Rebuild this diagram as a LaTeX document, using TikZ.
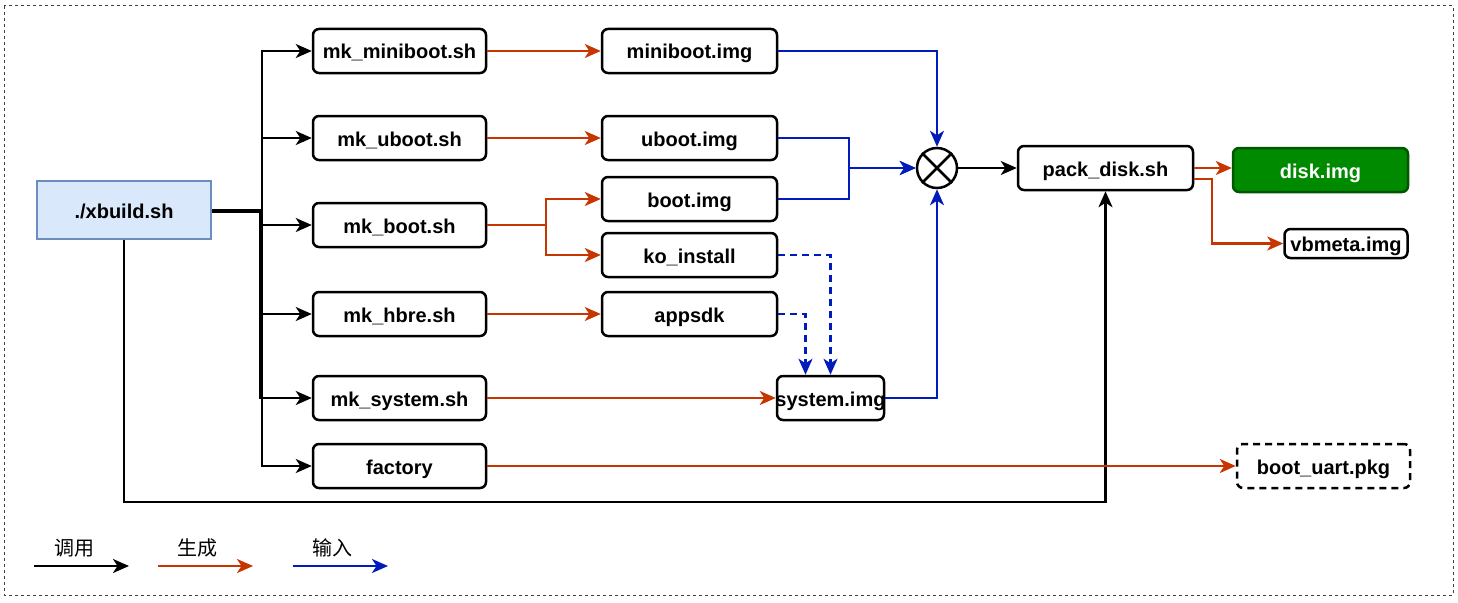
\documentclass[tikz,border=0pt]{standalone}
\usepackage{fontspec}
\setmainfont{Liberation Sans}
\newfontfamily\cjk{Noto Sans CJK SC}
\usetikzlibrary{arrows.meta,calc}
\definecolor{genc}{HTML}{C73500}
\definecolor{inc}{HTML}{001DBC}
\definecolor{xfill}{HTML}{DAE8FC}
\definecolor{xdraw}{HTML}{6C8EBF}
\definecolor{diskfill}{HTML}{008A00}
\definecolor{diskdraw}{HTML}{005700}
\begin{document}
\begin{tikzpicture}[x=1pt,y=-1pt,
 box/.style={draw=black, line width=2.5pt, rounded corners=6pt, fill=white, minimum height=44pt, inner sep=0pt, text height=16pt, text depth=0pt, font=\fontsize{20}{24}\selectfont\bfseries},
 mkbox/.style={box, minimum width=173pt},
 imgbox/.style={box, minimum width=175pt},
 tip/.style={-{Stealth[length=16pt,width=14pt,inset=4.5pt]}},
 call/.style={tip, draw=black, line width=2.2pt},
 gen/.style={tip, draw=genc, line width=2.2pt},
 inp/.style={tip, draw=inc, line width=2.2pt},
 inpd/.style={inp, dash pattern=on 7pt off 5pt},
 lgd/.style={font=\cjk\fontsize{20}{24}\selectfont, inner sep=0pt},
]
\useasboundingbox (0,0) rectangle (1458,602);
\draw[dash pattern=on 3pt off 3pt, line width=1pt, draw=black!75] (4,6) rectangle (1453,595);

% nodes
\node[box, sharp corners, draw=xdraw, fill=xfill, minimum width=174pt, minimum height=58pt] (xbuild) at (124,210) {./xbuild.sh};
\node[mkbox] (mkmini) at (399.5,51) {mk\_miniboot.sh};
\node[mkbox] (mkuboot) at (399.5,138) {mk\_uboot.sh};
\node[mkbox] (mkboot) at (399.5,225) {mk\_boot.sh};
\node[mkbox] (mkhbre) at (399.5,314) {mk\_hbre.sh};
\node[mkbox] (mksys) at (399.5,398) {mk\_system.sh};
\node[mkbox] (factory) at (399.5,466) {factory};
\node[imgbox] (miniimg) at (689.5,51) {miniboot.img};
\node[imgbox] (ubootimg) at (689.5,138) {uboot.img};
\node[imgbox] (bootimg) at (689.5,199) {boot.img};
\node[imgbox] (koinst) at (689.5,255) {ko\_install};
\node[imgbox] (appsdk) at (689.5,314) {appsdk};
\node[box, minimum width=107pt] (sysimg) at (830.5,398) {\makebox[0pt]{system.img}};
\node[circle, draw=black, line width=2.5pt, minimum size=40pt, inner sep=0pt, fill=white] (circ) at (937,168) {};
\draw[line width=2.5pt] (circ.45) -- (circ.225) (circ.135) -- (circ.315);
\node[imgbox] (pack) at (1105.5,168) {pack\_disk.sh};
\node[imgbox, draw=diskdraw, fill=diskfill, text=white] (disk) at (1320.5,170) {disk.img};
\node[box, minimum width=123pt, minimum height=29pt] (vbmeta) at (1346,243.5) {vbmeta.img};
\node[mkbox, dash pattern=on 7pt off 5pt] (bootuart) at (1323.5,466) {boot\_uart.pkg};

% call edges
\coordinate (trunk) at (262,210);
\coordinate (trunkb) at (260.5,211.5);
\draw[call] (xbuild.east) -- (trunk) |- (mkmini.west);
\draw[call] (xbuild.east) -- (trunk) |- (mkuboot.west);
\draw[call] ([yshift=-1.5pt]xbuild.east) -- (trunkb) |- (mkboot.west);
\draw[call] ([yshift=-1.5pt]xbuild.east) -- (trunkb) |- (mkhbre.west);
\draw[call] ([yshift=-1.5pt]xbuild.east) -- (trunkb) |- (mksys.west);
\draw[call] (xbuild.east) -- (trunk) |- (factory.west);
\draw[call] (xbuild.south) -- ++(0,262) -| (pack.south);
\draw[call] (circ.east) -- (pack.west);

% gen edges
\draw[gen] (mkmini.east) -- (miniimg.west);
\draw[gen] (mkuboot.east) -- (ubootimg.west);
\draw[gen] (mkboot.east) -- ++(59,0) |- (bootimg.west);
\draw[gen] (mkboot.east) -- ++(59,0) |- (koinst.west);
\draw[gen] (mkhbre.east) -- (appsdk.west);
\draw[gen] (mksys.east) -- (sysimg.west);
\draw[gen] (factory.east) -- (bootuart.west);
\draw[gen] (pack.east) -- (pack.east -| disk.west);
\draw[gen] ([yshift=-11pt]pack.east) -- ++(18,0) |- (vbmeta.west);

% input edges
\draw[inp] (miniimg.east) -| (circ.north);
\draw[inp] (ubootimg.east) -- ++(71,0) |- (circ.west);
\draw[inp] (bootimg.east) -- ++(71,0) |- (circ.west);
\draw[inp] (sysimg.east) -| (circ.south);
\draw[inpd] (koinst.east) -| (sysimg.north);
\draw[inpd] (appsdk.east) -| ([xshift=-25pt]sysimg.north);

% legend
\node[lgd] (l1) at (74,548) {调用};
\node[lgd] (l2) at (197,548) {生成};
\node[lgd] (l3) at (332,548) {输入};
\coordinate (l1a) at (34,566); \coordinate (l1b) at (129,566);
\coordinate (l2a) at (158,566); \coordinate (l2b) at (253,566);
\coordinate (l3a) at (293,566); \coordinate (l3b) at (388,566);
\draw[call] (l1a) -- (l1b);
\draw[gen] (l2a) -- (l2b);
\draw[inp] (l3a) -- (l3b);
\end{tikzpicture}
\end{document}
